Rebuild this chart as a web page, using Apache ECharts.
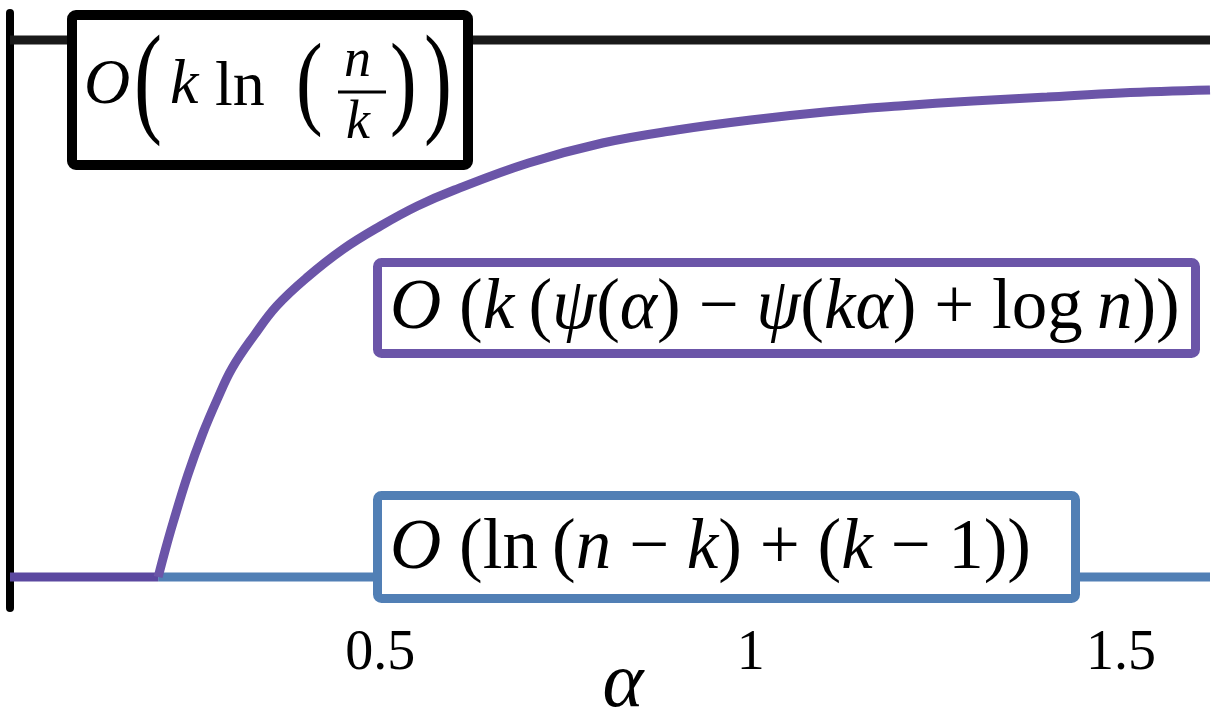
<!DOCTYPE html>
<html>
<head>
<meta charset="utf-8">
<script src="https://cdn.jsdelivr.net/npm/echarts@6/dist/echarts.min.js"></script>
<style>html,body{margin:0;padding:0;background:#fff;}#c{width:1214px;height:714px;}</style>
</head>
<body>
<div id="c"></div>
<script>
// ---- data ----
const xTicks = [0.5, 1, 1.5];
const xMax = 1.62;
const upperBoundX = [0, 1.62];
const upperBoundY = [568, 568];
const lowerBoundX = [0.2, 1.62];
const lowerBoundY = [31, 31];
const flatX = [0, 0.2];
const flatY = [31, 31];
const curveX = [0.2, 0.21, 0.22, 0.24, 0.26, 0.28, 0.3, 0.33, 0.36, 0.4, 0.45, 0.5, 0.55, 0.6, 0.7, 0.8, 0.9, 1.0, 1.1, 1.2, 1.3, 1.4, 1.5, 1.62];
const curveY = [31, 59, 85, 133, 174, 209, 240, 273, 302, 330, 359, 382, 402, 418, 445, 465, 478, 488, 496, 502, 507, 511, 515, 518];

const zip = (xs, ys) => xs.map((x, i) => [x, ys[i]]);
const FAM = '"Liberation Serif", "DejaVu Serif", serif';
const F = (style, size) => (style ? style + ' ' : '') + size + 'px ' + FAM;

const chart = echarts.init(document.getElementById('c'));
const SZ = 71;
const it = { font: F('italic', SZ), fill: '#000' };
const rm = { font: F('', SZ), fill: '#000' };
const T = (txt, x, y, font) => ({ type: 'text', x: x, y: y, z: 101,
  style: { text: txt, font: font, fill: '#000', verticalAlign: 'middle' } });
const paren = (txt, x, y, size, sy) => ({ type: 'text', x: x, y: y, z: 101, scaleY: sy, originX: 0, originY: 0,
  style: { text: txt, font: F('', size), fill: '#000', verticalAlign: 'middle' } });
const SP = '\u2005', TH = '\u2009';

chart.setOption({
  animation: false,
  backgroundColor: '#fff',
  grid: { left: 10, right: 4, top: 13, bottom: 106, outerBoundsMode: 'none', containLabel: false },
  xAxis: {
    type: 'value', min: 0, max: xMax, interval: 0.5,
    axisLine: { show: false }, axisTick: { show: false }, splitLine: { show: false },
    axisLabel: {
      showMinLabel: false, showMaxLabel: false, margin: 18,
      fontFamily: FAM, fontSize: 56, color: '#000',
      formatter: v => (xTicks.indexOf(v) >= 0 ? String(v) : '')
    },
    name: 'α', nameLocation: 'middle', nameGap: 38, nameMoveOverlap: false,
    nameTextStyle: { fontFamily: FAM, fontStyle: 'italic', fontSize: 78, color: '#000', padding: [0, 0, 0, 26] }
  },
  yAxis: {
    type: 'value', min: 0, max: 595,
    axisLine: { show: true, lineStyle: { color: '#000', width: 8 } },
    axisTick: { show: false }, axisLabel: { show: false }, splitLine: { show: false }
  },
  series: [
    { type: 'line', data: zip(upperBoundX, upperBoundY), symbol: 'none', lineStyle: { color: '#1a1a1a', width: 9 } },
    { type: 'line', data: zip(lowerBoundX, lowerBoundY), symbol: 'none', lineStyle: { color: '#517fb5', width: 9 } },
    { type: 'line', data: zip(flatX, flatY), symbol: 'none', lineStyle: { color: '#5b48a0', width: 9 } },
    { type: 'line', data: zip(curveX, curveY), symbol: 'none', smooth: 0.4, lineStyle: { color: '#6b55a8', width: 9 } }
  ],
  graphic: [
    // black box
    { type: 'rect', shape: { x: 72, y: 15, width: 396, height: 150, r: 4 }, style: { fill: '#fff', stroke: '#000', lineWidth: 10 }, z: 100 },
    T('O', 84, 86, F('italic', 64)),
    paren('(', 134, 88, 84, 1.45),
    T('k', 170, 86, F('italic', 64)),
    T('ln', 215, 88, F('', 64)),
    paren('(', 296, 88, 80, 1.3),
    T('n', 344, 62, F('italic', 54)),
    { type: 'line', z: 101, shape: { x1: 338, y1: 92, x2: 386, y2: 92 }, style: { stroke: '#000', lineWidth: 3 } },
    T('k', 346, 124, F('italic', 54)),
    paren(')', 390, 88, 80, 1.3),
    paren(')', 424, 88, 84, 1.45),
    // purple box
    { type: 'rect', shape: { x: 377.5, y: 262.5, width: 818, height: 91, r: 4 }, style: { fill: '#fff', stroke: '#6b55a8', lineWidth: 9 }, z: 100 },
    { type: 'text', x: 390, y: 309, z: 101, style: {
      text: '{i|O}{r|' + SP + '(}{i|k}{r|' + TH + '(}{i|ψ}{r|(}{i|α}{r|)' + SP + '−' + SP + '}{i|ψ}{r|(}{i|kα}{r|)' + SP + '+' + SP + 'log' + TH + '}{i|n}{r|))}',
      verticalAlign: 'middle', rich: { i: it, r: rm } } },
    // blue box
    { type: 'rect', shape: { x: 377.5, y: 495.5, width: 698, height: 103, r: 4 }, style: { fill: '#fff', stroke: '#517fb5', lineWidth: 9 }, z: 100 },
    { type: 'text', x: 390, y: 549, z: 101, style: {
      text: '{i|O}{r|' + SP + '(ln' + TH + '(}{i|n}{r|' + SP + '−' + SP + '}{i|k}{r|)' + SP + '+' + SP + '(}{i|k}{r|' + SP + '−' + SP + '1))}',
      verticalAlign: 'middle', rich: { i: it, r: rm } } }
  ]
});
</script>
</body>
</html>
